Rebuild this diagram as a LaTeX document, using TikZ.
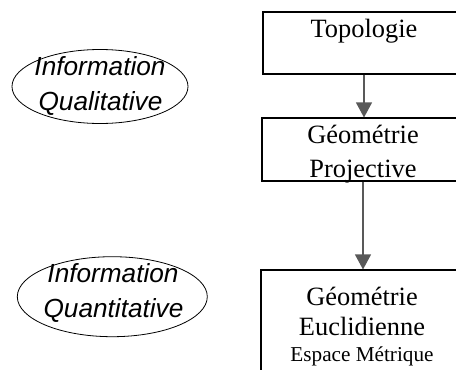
\documentclass[tikz,border=0pt]{standalone}
\usepackage{fontspec}
\setmainfont{Liberation Serif}
\newfontfamily\sansit{Liberation Sans}
\usetikzlibrary{shapes.geometric,arrows.meta}

\tikzset{
  stage/.style={draw=black, line width=1.1pt, rectangle, inner sep=0pt, fill=white},
  infoshape/.style={draw=black, line width=0.8pt, ellipse, inner sep=0pt},
  serifline/.style={anchor=base, inner sep=0pt, font=\fontsize{26.4}{30}\selectfont},
  smallline/.style={anchor=base, inner sep=0pt, font=\fontsize{21.2}{25}\selectfont},
  infoline/.style={anchor=base, inner sep=0pt, font=\sansit\itshape\fontsize{26.2}{30}\selectfont},
  flow/.style={draw=black!65, line width=1.2pt, -{Triangle[width=16pt,length=15pt]}}
}

\begin{document}
\begin{tikzpicture}[x=1pt, y=-1pt]
  \useasboundingbox (0,0) rectangle (456,370);
  \clip (0,0) rectangle (456,370);

  % stage boxes (they run past the right border)
  \node[stage, minimum width=202pt, minimum height=62pt] (topo) at (364,43) {};
  \node[stage, minimum width=202pt, minimum height=63pt] (proj) at (363,149.5) {};
  \node[stage, minimum width=204pt, minimum height=125pt] (eucl) at (363,332.5) {};

  % box texts
  \node[serifline] (topo-t) at (364,37) {Topologie};
  \node[serifline] (proj-t1) at (363,143) {Géométrie};
  \node[serifline] (proj-t2) at (363,177) {Projective};
  \node[serifline] (eucl-t1) at (362,305) {Géométrie};
  \node[serifline] (eucl-t2) at (362,335) {Euclidienne};
  \node[smallline] (eucl-t3) at (362,361) {Espace Métrique};

  % arrows between stages
  \draw[flow] (topo.south) -- (topo.south |- proj.north);
  \draw[flow] (proj.south) -- (proj.south |- eucl.north);

  % information ellipses
  \node[infoshape, minimum width=176pt, minimum height=74pt] (qual) at (100,86.5) {};
  \node[infoline] (qual-t1) at (100,75) {Information};
  \node[infoline] (qual-t2) at (100.5,110) {Qualitative};

  \node[infoshape, minimum width=190pt, minimum height=80pt] (quant) at (112.3,296.7) {};
  \node[infoline] (quant-t1) at (113,282) {Information};
  \node[infoline] (quant-t2) at (113.5,317) {Quantitative};
\end{tikzpicture}
\end{document}
